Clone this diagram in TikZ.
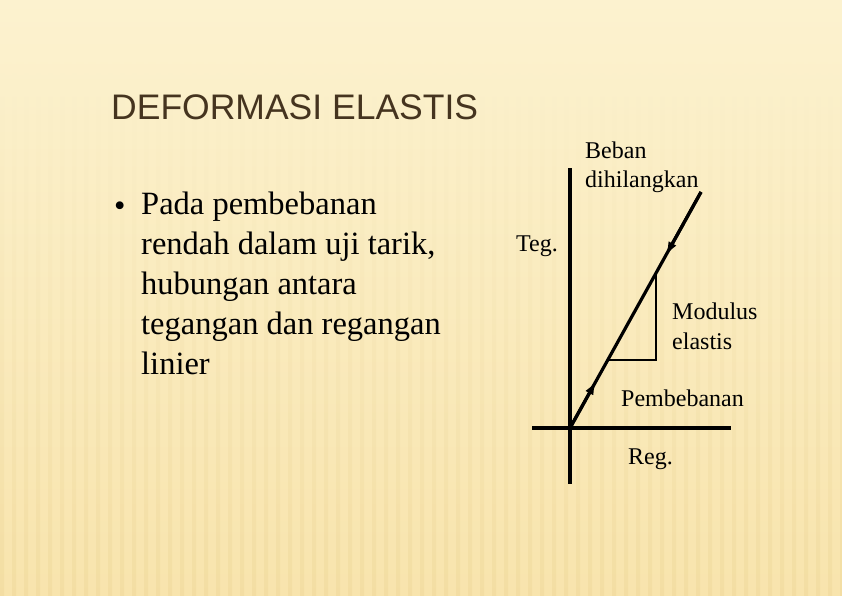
\documentclass[tikz,border=0pt]{standalone}
\usepackage{fontspec}
\setmainfont{Liberation Serif}
\newfontfamily\titlefont{Liberation Sans}
\usetikzlibrary{calc,arrows.meta}
\definecolor{bgtop}{HTML}{FCF2CF}
\definecolor{bgmid}{HTML}{F8E4AD}
\definecolor{stripe}{HTML}{E6CC86}
\definecolor{titlecol}{HTML}{45341F}
\tikzset{
  axis/.style={line width=3.2pt, black},
  curve/.style={line width=3.2pt, black},
  slope/.style={line width=2.2pt, black},
  lbl/.style={font=\fontsize{24}{29}\selectfont, anchor=base west, inner sep=0pt, text=black},
  tip/.style={-{Latex[length=14pt,width=9pt]}}
}
\begin{document}
\begin{tikzpicture}[x=1pt,y=-1pt]
\useasboundingbox (0,0) rectangle (842,595);
% background
\shade[top color=bgtop, bottom color=bgmid] (0,0) rectangle (842,595);
\foreach \i in {0,...,70}{
  \shade[top color=bgtop, bottom color=stripe, opacity=0.25] (\i*12,60) rectangle ++(4,535);
}
% title
\node[font=\titlefont\fontsize{35.5}{40}\selectfont, text=titlecol, anchor=base west, inner sep=0pt] (title) at (111,119) {DEFORMASI ELASTIS};
% bullet text
\node[font=\fontsize{32.5}{40}\selectfont, anchor=base west, inner sep=0pt] (bullet) at (114,216) {\textbullet};
\node[font=\fontsize{32.5}{40}\selectfont, anchor=north west, inner sep=0pt, align=left] (body) at (141,192)
 {Pada pembebanan\\rendah dalam uji tarik,\\hubungan antara\\tegangan dan regangan\\linier};
% diagram
\coordinate (O) at (570,428);
\coordinate (vtop) at (570,168);
\coordinate (vbot) at (570,484);
\coordinate (hl) at (532,428);
\coordinate (hr) at (731,428);
\coordinate (E) at (701,192);
\coordinate (tA) at (608,360);
\coordinate (tB) at (656,360);
\coordinate (tC) at (656,273);
\draw[axis] (vtop) -- (vbot);
\draw[axis] (hl) -- (hr);
\draw[curve] (O) -- (E);
\draw[slope] (tA) -- (tB) -- (tC);
\draw[curve, tip] (O) -- ($(O)!0.2!(E)$);
\draw[curve, tip] (E) -- ($(E)!0.27!(O)$);
% labels
\node[lbl] (beban) at (585,158) {Beban};
\node[lbl] (dihil) at (585,187) {dihilangkan};
\node[lbl] (teg) at (516,251) {Teg.};
\node[lbl] (mod) at (672,319) {Modulus};
\node[lbl] (ela) at (672,349) {elastis};
\node[lbl] (pemb) at (621,406) {Pembebanan};
\node[lbl] (reg) at (628,464) {Reg.};
\end{tikzpicture}
\end{document}
